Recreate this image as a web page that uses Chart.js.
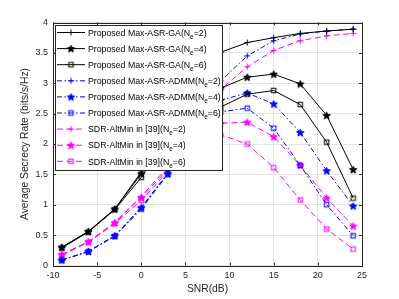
<!DOCTYPE html>
<html>
<head>
<meta charset="utf-8">
<script src="https://cdn.jsdelivr.net/npm/chart.js@4"></script>
<style>
html, body { margin: 0; padding: 0; background: #fff; }
</style>
</head>
<body>
<canvas id="chart" width="399" height="299"></canvas>
<script>
// SNR values (dB) where each curve is sampled
const snr = [-9, -6, -3, 0, 3, 6, 9, 12, 15, 18, 21, 24];

// average secrecy rate, bits/s/Hz
const ga2   = [0.30, 0.56, 0.93, 1.54, 2.35, 3.05, 3.51, 3.67, 3.75, 3.82, 3.86, 3.89];
const ga4   = [0.30, 0.56, 0.93, 1.51, 2.25, 2.72, 2.92, 3.10, 3.15, 2.99, 2.47, 1.58];
const ga6   = [0.29, 0.55, 0.92, 1.45, 2.12, 2.48, 2.61, 2.82, 2.88, 2.65, 2.03, 1.11];
const admm2 = [0.09, 0.23, 0.49, 0.96, 1.52, 2.30, 3.04, 3.45, 3.70, 3.81, 3.86, 3.89];
const admm4 = [0.09, 0.23, 0.49, 0.95, 1.51, 2.20, 2.72, 2.84, 2.66, 2.19, 1.56, 0.98];
const admm6 = [0.09, 0.23, 0.48, 0.93, 1.50, 2.10, 2.53, 2.59, 2.26, 1.65, 1.00, 0.49];
const sdr2  = [0.18, 0.39, 0.71, 1.14, 1.62, 2.30, 2.90, 3.27, 3.54, 3.70, 3.78, 3.82];
const sdr4  = [0.18, 0.39, 0.70, 1.12, 1.58, 2.05, 2.34, 2.36, 2.12, 1.65, 1.11, 0.65];
const sdr6  = [0.17, 0.38, 0.69, 1.07, 1.55, 1.95, 2.15, 2.00, 1.61, 1.08, 0.60, 0.27];

const seriesNames = [
    'Proposed Max-ASR-GA(N_e=2)',
    'Proposed Max-ASR-GA(N_e=4)',
    'Proposed Max-ASR-GA(N_e=6)',
    'Proposed Max-ASR-ADMM(N_e=2)',
    'Proposed Max-ASR-ADMM(N_e=4)',
    'Proposed Max-ASR-ADMM(N_e=6)',
    'SDR-AltMin in [39](N_e=2)',
    'SDR-AltMin in [39](N_e=4)',
    'SDR-AltMin in [39](N_e=6)'
];

const xTicks = [-10, -5, 0, 5, 10, 15, 20, 25];
const yTicks = [0, 0.5, 1, 1.5, 2, 2.5, 3, 3.5, 4];

const xTitle = 'SNR(dB)';
const yTitle = 'Average Secrecy Rate (bits/s/Hz)';

const axisColor = '#262626';
const gridColor = '#e3e3e3';

// marker images: plus, filled pentagram, open square
function makeMarker(kind, color) {
    const c = document.createElement('canvas');
    c.width = 11; c.height = 11;
    const g = c.getContext('2d');
    g.strokeStyle = color;
    g.fillStyle = color;
    g.lineWidth = 1;
    const m = 5.5;
    if (kind === 'plus') {
        g.beginPath();
        g.moveTo(m - 3, m); g.lineTo(m + 3, m);
        g.moveTo(m, m - 3); g.lineTo(m, m + 3);
        g.stroke();
    } else if (kind === 'star') {
        const R = 3.9, r = R * 0.42;
        g.beginPath();
        for (let i = 0; i < 10; i++) {
            const a = -Math.PI / 2 + i * Math.PI / 5;
            const rr = i % 2 ? r : R;
            const px = m + rr * Math.cos(a), py = m + 0.4 + rr * Math.sin(a);
            if (i === 0) g.moveTo(px, py); else g.lineTo(px, py);
        }
        g.closePath();
        g.fill();
        g.stroke();
    } else {
        g.strokeRect(m - 2.25, m - 2.25, 4.5, 4.5);
    }
    return c;
}

const styles = [
    ['#000000', [], 'plus'],
    ['#000000', [], 'star'],
    ['#000000', [], 'square'],
    ['#0000ff', [5, 2.5, 1.5, 2.5], 'plus'],
    ['#0000ff', [5, 2.5, 1.5, 2.5], 'star'],
    ['#0000ff', [5, 2.5, 1.5, 2.5], 'square'],
    ['#ff00ff', [6, 3.5], 'plus'],
    ['#ff00ff', [6, 3.5], 'star'],
    ['#ff00ff', [6, 3.5], 'square']
];

const allSeries = [ga2, ga4, ga6, admm2, admm4, admm6, sdr2, sdr4, sdr6];

const datasets = allSeries.map((vals, i) => ({
    label: seriesNames[i],
    data: snr.map((x, j) => ({ x: x, y: vals[j] })),
    borderColor: styles[i][0],
    borderDash: styles[i][1],
    borderWidth: 1,
    pointStyle: makeMarker(styles[i][2], styles[i][0]),
    pointRadius: 3,
    tension: 0,
    fill: false
}));

const tickFont = { family: '"Liberation Sans", Arial, sans-serif', size: 9 };
const titleFont = { family: '"Liberation Sans", Arial, sans-serif', size: 10.3 };

// box around the axes with small inward ticks
const boxPlugin = {
    id: 'axesBox',
    afterDraw(chart) {
        const ctx = chart.ctx;
        const a = chart.chartArea;
        const xs = chart.scales.x, ys = chart.scales.y;
        ctx.save();
        ctx.strokeStyle = axisColor;
        ctx.lineWidth = 1;
        ctx.strokeRect(Math.round(a.left) + 0.5, Math.round(a.top) + 0.5,
            Math.round(a.right - a.left), Math.round(a.bottom - a.top));
        ctx.beginPath();
        xTicks.forEach(v => {
            const px = Math.round(xs.getPixelForValue(v)) + 0.5;
            ctx.moveTo(px, a.bottom); ctx.lineTo(px, a.bottom - 3);
            ctx.moveTo(px, a.top); ctx.lineTo(px, a.top + 3);
        });
        yTicks.forEach(v => {
            const py = Math.round(ys.getPixelForValue(v)) + 0.5;
            ctx.moveTo(a.left, py); ctx.lineTo(a.left + 3, py);
            ctx.moveTo(a.right, py); ctx.lineTo(a.right - 3, py);
        });
        ctx.stroke();
        ctx.restore();
    }
};

// legend drawn inside the plot, top-left, with subscript e
const legendPlugin = {
    id: 'insetLegend',
    afterDraw(chart) {
        const ctx = chart.ctx;
        ctx.save();
        const x0 = 55, y0 = 25, w = 167, h = 145;
        ctx.fillStyle = '#fff';
        ctx.fillRect(x0, y0, w, h);
        ctx.strokeStyle = axisColor;
        ctx.lineWidth = 1;
        ctx.strokeRect(x0 + 0.5, y0 + 0.5, w, h);
        chart.data.datasets.forEach((ds, i) => {
            const y = 32.5 + i * 16.1;
            ctx.strokeStyle = ds.borderColor;
            ctx.setLineDash(ds.borderDash);
            ctx.beginPath();
            ctx.moveTo(57, y); ctx.lineTo(85, y);
            ctx.stroke();
            ctx.setLineDash([]);
            const img = ds.pointStyle;
            ctx.drawImage(img, 71 - img.width / 2, y - img.height / 2);

            const parts = ds.label.split('_e');
            ctx.fillStyle = '#000';
            ctx.textBaseline = 'alphabetic';
            let tx = 88;
            ctx.font = '8.75px "Liberation Sans", Arial, sans-serif';
            ctx.fillText(parts[0], tx, y + 3.2);
            tx += ctx.measureText(parts[0]).width;
            ctx.font = '6.5px "Liberation Sans", Arial, sans-serif';
            ctx.fillText('e', tx, y + 6.2);
            tx += ctx.measureText('e').width;
            ctx.font = '8.75px "Liberation Sans", Arial, sans-serif';
            ctx.fillText(parts[1], tx, y + 3.2);
        });
        ctx.restore();
    }
};

new Chart(document.getElementById('chart'), {
    type: 'line',
    data: { datasets: datasets },
    options: {
        responsive: false,
        animation: false,
        devicePixelRatio: 1,
        layout: { padding: { left: 15, right: 37, top: 22.5, bottom: 0 } },
        plugins: {
            legend: { display: false },
            tooltip: { enabled: false }
        },
        scales: {
            x: {
                type: 'linear',
                min: -10,
                max: 25,
                afterBuildTicks: s => { s.ticks = xTicks.map(v => ({ value: v })); },
                afterFit: s => { s.height = 33.5; },
                grid: { color: gridColor, drawTicks: false },
                border: { display: false },
                ticks: { font: tickFont, color: axisColor, padding: 5, maxRotation: 0,
                    callback: v => String(v) },
                title: { display: true, text: xTitle, font: titleFont, color: axisColor,
                    padding: { top: 4, bottom: 4 } }
            },
            y: {
                type: 'linear',
                min: 0,
                max: 4,
                afterBuildTicks: s => { s.ticks = yTicks.map(v => ({ value: v })); },
                afterFit: s => { s.width = 38; },
                grid: { color: gridColor, drawTicks: false },
                border: { display: false },
                ticks: { font: tickFont, color: axisColor, padding: 5,
                    callback: v => String(v) },
                title: { display: true, text: yTitle, font: titleFont, color: axisColor,
                    padding: { top: 4, bottom: 4 } }
            }
        }
    },
    plugins: [boxPlugin, legendPlugin]
});
</script>
</body>
</html>
